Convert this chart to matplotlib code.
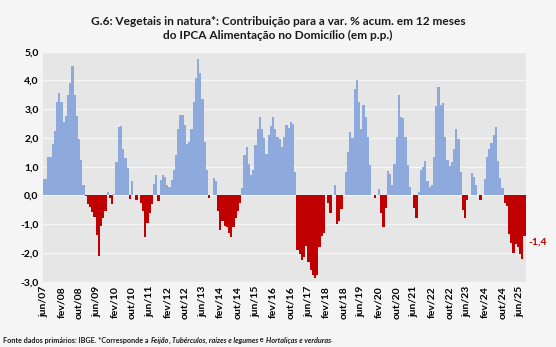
import matplotlib
matplotlib.use('Agg')
import matplotlib.pyplot as plt
import numpy as np

plt.rcParams['font.family'] = ['Lato', 'DejaVu Sans']

# Monthly contributions (p.p.), jun/07 .. ago/25
values = [
    0.58, 0.58, 1.33, 1.33, 1.80, 2.25, 3.25, 3.55, 3.25, 2.55,
    2.78, 3.48, 3.92, 4.49, 3.48, 2.78, 1.97, 1.22, 0.37, -0.02,
    -0.29, -0.40, -0.58, -0.75, -1.39, -2.10, -1.05, -0.80, -0.55, 0.12,
    -0.10, -0.28, 0.06, 1.16, 2.38, 2.43, 1.60, 1.30, 0.95, -0.12,
    0.52, 0.02, -0.15, 0.00, -0.25, -0.55, -1.45, -0.95, -0.60, -0.30,
    0.40, 0.70, -0.20, 0.55, 0.70, 0.65, 0.35, 0.30, 0.55, 0.90,
    1.40, 2.30, 2.80, 2.80, 2.45, 1.80, 1.85, 2.30, 3.25, 4.10,
    4.75, 4.25, 3.35, 1.85, 0.90, -0.08, 0.00, 0.60, 0.52, -0.55,
    -1.20, -0.90, -1.05, -1.10, -1.30, -1.45, -1.10, -0.80, -0.55, -0.25,
    0.25, 1.40, 1.70, 1.10, 0.70, 0.90, 1.75, 2.30, 2.72, 2.30,
    2.00, 1.45, 2.09, 2.40, 2.72, 2.30, 2.03, 1.95, 1.68, 2.05,
    2.45, 2.35, 2.55, 2.50, 0.80, -1.90, -2.05, -2.25, -2.15, -1.75,
    -2.30, -2.60, -2.75, -2.87, -2.75, -1.80, -1.40, -1.30, 0.00, -0.25,
    -0.60, 0.00, 0.37, -1.00, -0.88, -0.46, 0.00, 0.80, 1.50, 2.20,
    2.00, 3.70, 4.00, 3.25, 2.30, 3.13, 2.72, 2.05, 1.05, 0.00,
    -0.08, 0.00, 0.22, -0.60, -1.10, -0.45, 0.85, 0.75, 0.35, 1.10,
    2.05, 3.50, 2.72, 2.70, 2.05, 1.05, 0.30, 0.00, -0.45, -0.80,
    0.12, 0.90, 1.00, 1.20, 0.50, 0.30, 0.35, 1.35, 3.10, 3.77,
    3.13, 3.20, 2.05, 1.22, 1.04, 1.16, 1.60, 2.30, 1.97, 0.80,
    -0.50, -0.80, -0.15, 0.00, 0.78, 0.64, 0.35, 0.00, -0.17, 0.00,
    0.58, 1.35, 1.60, 1.83, 2.09, 2.37, 1.20, 0.60, 0.25, -0.25,
    -0.35, -1.35, -1.65, -2.00, -1.70, -1.80, -2.05, -2.20, -1.40,
]

months_pt = ['jan', 'fev', 'mar', 'abr', 'mai', 'jun',
             'jul', 'ago', 'set', 'out', 'nov', 'dez']
start_year, start_month = 2007, 6
categories = []
for k in range(len(values)):
    mm = (start_month - 1 + k) % 12
    yy = start_year + (start_month - 1 + k) // 12
    categories.append(f"{months_pt[mm]}/{yy % 100:02d}")

yticks = [5, 4, 3, 2, 1, 0, -1, -2, -3]
ytick_labels = ['5,0', '4,0', '3,0', '2,0', '1,0', '0,0', '-1,0', '-2,0', '-3,0']
last_label = '-1,4'

title = ("G.6: Vegetais in natura*: Contribuição para a var. % acum. em 12 meses\n"
         "do IPCA Alimentação no Domicílio (em p.p.)")

BLUE = '#8eaadc'
RED = '#c00000'

fig = plt.figure(figsize=(5.56, 3.47), dpi=100)
fig.patch.set_facecolor('#f5f5f5')
ax = fig.add_axes([0.0768, 0.188, 0.8687, 0.663])
ax.set_facecolor('#e6e6e6')

x = np.arange(len(values))
vals = np.array(values)
colors = [BLUE if v >= 0 else RED for v in vals]
ax.bar(x, vals, width=1.0, color=colors, linewidth=0, zorder=3)

ax.set_ylim(-3, 5)
ax.set_xlim(-0.5, len(values) - 0.5)
ax.set_yticks(yticks)
ax.set_yticklabels(ytick_labels, fontsize=7.5, fontweight='bold')
ax.yaxis.grid(True, color='#f6f6f6', linewidth=0.9, zorder=0)
ax.set_axisbelow(True)

tick_pos = list(range(0, len(values), 8))
ax.set_xticks(tick_pos)
ax.set_xticklabels([categories[i] for i in tick_pos], rotation=90,
                   fontsize=7.5, fontweight='bold')
ax.tick_params(axis='both', length=0, pad=3)
for s in ax.spines.values():
    s.set_visible(False)

ax.text(len(values) + 0.8, values[-1] - 0.22, last_label, color=RED,
        fontsize=7.5, fontweight='bold', ha='left', va='center')

fig.text(0.5, 0.955, title, ha='center', va='top', fontsize=8.6,
         fontweight='bold', color='#1a1a1a', linespacing=1.35)

# Footnote with mixed styles
parts = [
    ("Fonte dados primários: IBGE. *Corresponde a ", 'normal'),
    ("Feijão", 'italic'),
    (", ", 'normal'),
    ("Tubérculos, raízes e legumes", 'italic'),
    (" e ", 'normal'),
    ("Hortaliças e verduras", 'italic'),
    (".", 'normal'),
]
fig.canvas.draw()
renderer = fig.canvas.get_renderer()
xpos = 3.0
for txt, st in parts:
    t = fig.text(xpos / 556, 1 - 340 / 347, txt, fontsize=5.2, fontweight='bold',
                 style=st, ha='left', va='center', color='#1a1a1a')
    bb = t.get_window_extent(renderer=renderer)
    xpos += bb.width

fig.savefig('out.png', dpi=100, facecolor=fig.get_facecolor())
